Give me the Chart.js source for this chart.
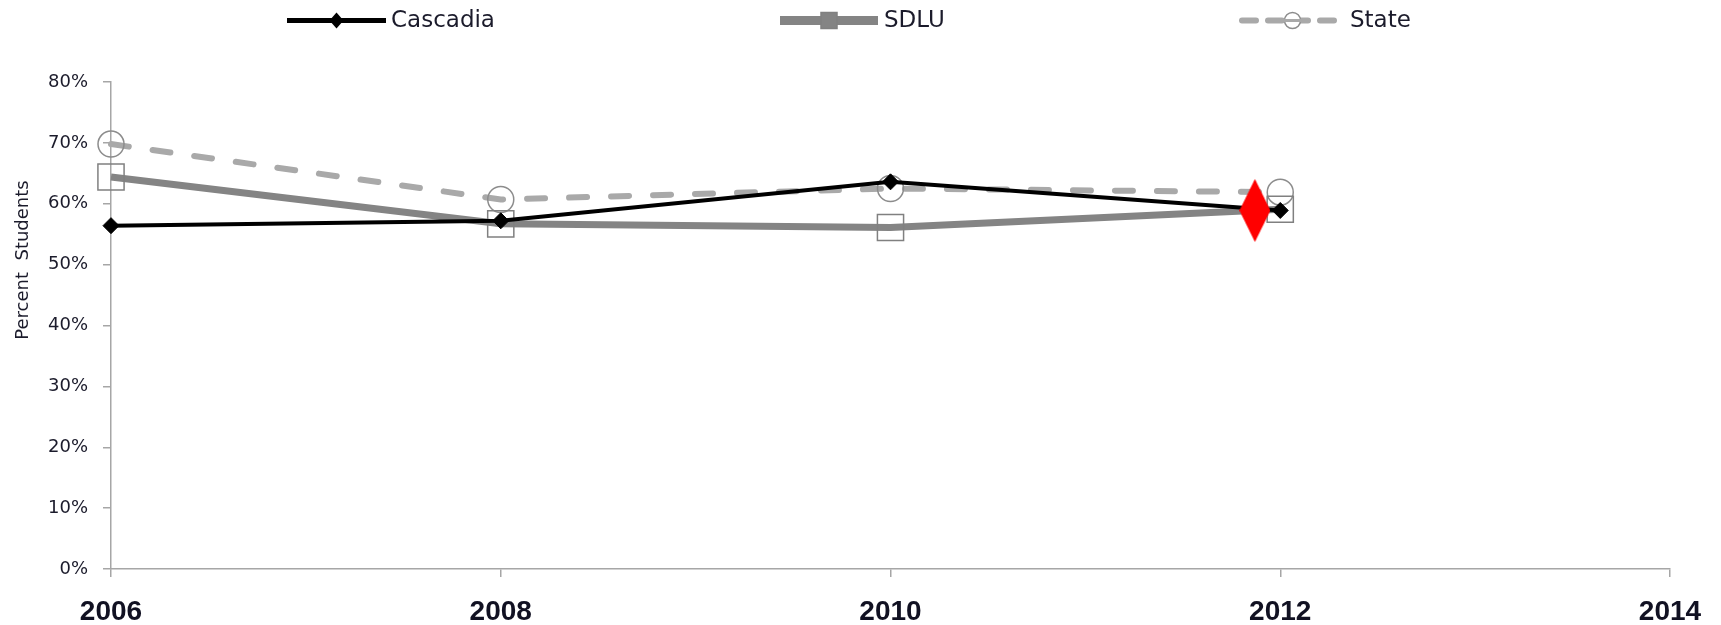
<!DOCTYPE html>
<html>
<head>
<meta charset="utf-8">
<script src="https://cdn.jsdelivr.net/npm/chart.js@4/dist/chart.umd.min.js"></script>
<style>
  html, body { margin: 0; padding: 0; background: #fff; }
  #wrap { width: 1721px; height: 625px; position: relative; }
</style>
</head>
<body>
<div id="wrap"><canvas id="chart"></canvas></div>
<script>
// Survey years and percentage of students per group
const years = [2006, 2008, 2010, 2012];
const cascadia = [56.4, 57.2, 63.6, 58.9];
const sdlu = [64.4, 56.7, 56.1, 59.1];
const state = [69.8, 60.7, 62.5, 61.9];

// Highlighted 2012 result (red marker)
const highlightYear = [2011.87];
const highlightValue = [58.9];

const seriesNames = ['Cascadia', 'SDLU', 'State'];
const xTickValues = [2006, 2008, 2010, 2012, 2014];
const yTickValues = [0, 10, 20, 30, 40, 50, 60, 70, 80];
const yTitle = 'Percent  Students';

const toPoints = (xs, ys) => xs.map((x, i) => ({ x: x, y: ys[i] }));

// Tall red diamond used as a custom point style
function makeDiamond(w, h, color) {
  const c = document.createElement('canvas');
  c.width = w; c.height = h;
  const g = c.getContext('2d');
  g.fillStyle = color;
  g.beginPath();
  g.moveTo(w / 2, 0);
  g.lineTo(w, h / 2);
  g.lineTo(w / 2, h);
  g.lineTo(0, h / 2);
  g.closePath();
  g.fill();
  return c;
}
const redDiamond = makeDiamond(31, 63, '#ff0000');

const AXIS_GREY = '#a6a6a6';
const TEXT = '#1b1b2b';

// Legend spread across the top, plus the rotated y-axis title
const legendLayout = [
  { x0: 287, x1: 386, tx: 391 },
  { x0: 780, x1: 878, tx: 884 },
  { x0: 1242, x1: 1343, tx: 1350 }
];
const decorations = {
  id: 'decorations',
  afterDraw(chart) {
    const ctx = chart.ctx;
    const ly = 20.5;
    ctx.save();
    chart.data.datasets.slice(0, 3).forEach((ds, i) => {
      const L = legendLayout[i];
      ctx.save();
      ctx.strokeStyle = ds.borderColor;
      ctx.lineWidth = ds.legendLineWidth;
      ctx.lineCap = ds.borderCapStyle || 'butt';
      ctx.setLineDash(ds.legendDash || []);
      ctx.beginPath();
      ctx.moveTo(L.x0, ly);
      ctx.lineTo(L.x1, ly);
      ctx.stroke();
      ctx.setLineDash([]);
      const cx = (L.x0 + L.x1) / 2;
      ctx.lineWidth = 1.5;
      ctx.strokeStyle = ds.pointBorderColor;
      ctx.fillStyle = ds.legendMarkerFill;
      ctx.beginPath();
      if (ds.pointStyle === 'rectRot') {
        ctx.moveTo(cx - 7, ly); ctx.lineTo(cx, ly - 8); ctx.lineTo(cx + 7, ly); ctx.lineTo(cx, ly + 8);
        ctx.closePath();
        ctx.fillStyle = '#000';
        ctx.fill();
      } else if (ds.pointStyle === 'rect') {
        ctx.rect(cx - 8, ly - 8, 16, 16);
        ctx.fill();
        ctx.stroke();
      } else {
        ctx.arc(cx, ly, 8, 0, Math.PI * 2);
        ctx.fill();
        ctx.stroke();
        ctx.beginPath();
        ctx.moveTo(cx - 8, ly); ctx.lineTo(cx + 8, ly);
        ctx.strokeStyle = ds.borderColor;
        ctx.lineWidth = 3;
        ctx.stroke();
      }
      ctx.restore();
      ctx.fillStyle = TEXT;
      ctx.font = '23px "DejaVu Sans", sans-serif';
      ctx.textBaseline = 'middle';
      ctx.textAlign = 'left';
      ctx.fillText(seriesNames[i], L.tx, ly + 1);
    });
    // y-axis title
    ctx.translate(23, 260);
    ctx.rotate(-Math.PI / 2);
    ctx.fillStyle = TEXT;
    ctx.font = '18px "DejaVu Sans", sans-serif';
    ctx.textAlign = 'center';
    ctx.textBaseline = 'middle';
    ctx.fillText(yTitle, 0, 0);
    ctx.restore();
  }
};

new Chart(document.getElementById('chart'), {
  type: 'line',
  data: {
    datasets: [
      {
        label: seriesNames[0],
        data: toPoints(years, cascadia),
        borderColor: '#000000',
        borderWidth: 4,
        legendLineWidth: 5,
        pointStyle: 'rectRot',
        pointRadius: 8,
        pointBackgroundColor: '#000000',
        pointBorderColor: '#000000',
        pointBorderWidth: 1,
        legendMarkerFill: '#000',
        clip: false,
        order: 1
      },
      {
        label: seriesNames[1],
        data: toPoints(years, sdlu),
        borderColor: '#848484',
        borderWidth: 7,
        legendLineWidth: 9,
        pointStyle: 'rect',
        pointRadius: 18.5,
        pointBackgroundColor: 'rgba(0,0,0,0)',
        pointBorderColor: '#808080',
        pointBorderWidth: 1.5,
        legendMarkerFill: '#848484',
        clip: false,
        order: 2
      },
      {
        label: seriesNames[2],
        data: toPoints(years, state),
        borderColor: '#a9a9a9',
        borderWidth: 6,
        legendLineWidth: 6,
        borderDash: [18, 24],
        legendDash: [14, 12],
        borderCapStyle: 'round',
        pointStyle: 'circle',
        pointRadius: 13,
        pointBackgroundColor: 'rgba(0,0,0,0)',
        pointBorderColor: '#8c8c8c',
        pointBorderWidth: 1.5,
        legendMarkerFill: '#ffffff',
        clip: false,
        order: 3
      },
      {
        label: 'highlight',
        data: toPoints(highlightYear, highlightValue),
        showLine: false,
        pointStyle: redDiamond,
        pointRadius: 16,
        clip: false,
        order: 0
      }
    ]
  },
  options: {
    responsive: true,
    maintainAspectRatio: false,
    animation: false,
    devicePixelRatio: 1,
    layout: { padding: { top: 82, right: 51, bottom: 0, left: 0 } },
    plugins: { legend: { display: false }, tooltip: { enabled: false } },
    elements: { line: { tension: 0 } },
    scales: {
      x: {
        type: 'linear',
        min: 2006,
        max: 2014,
        afterBuildTicks: (s) => { s.ticks = xTickValues.map(v => ({ value: v })); },
        afterFit: (s) => { s.height = 56; },
        border: { display: true, color: AXIS_GREY, width: 1.5 },
        grid: { drawOnChartArea: false, drawTicks: true, tickLength: 8, color: AXIS_GREY, lineWidth: 1.5 },
        ticks: {
          autoSkip: false,
          maxRotation: 0,
          padding: 18,
          color: '#111122',
          font: { family: '"Liberation Sans", Arial, sans-serif', size: 28, weight: 'bold' },
          callback: (v) => String(v)
        }
      },
      y: {
        min: 0,
        max: 80,
        afterBuildTicks: (s) => { s.ticks = yTickValues.map(v => ({ value: v })); },
        afterFit: (s) => { s.width = 111; },
        border: { display: true, color: AXIS_GREY, width: 1.5 },
        grid: { drawOnChartArea: false, drawTicks: true, tickLength: 8, color: AXIS_GREY, lineWidth: 1.5 },
        ticks: {
          padding: 15,
          color: TEXT,
          font: { family: '"DejaVu Sans", sans-serif', size: 18 },
          callback: (v) => v + '%'
        }
      }
    }
  },
  plugins: [decorations]
});
</script>
</body>
</html>
